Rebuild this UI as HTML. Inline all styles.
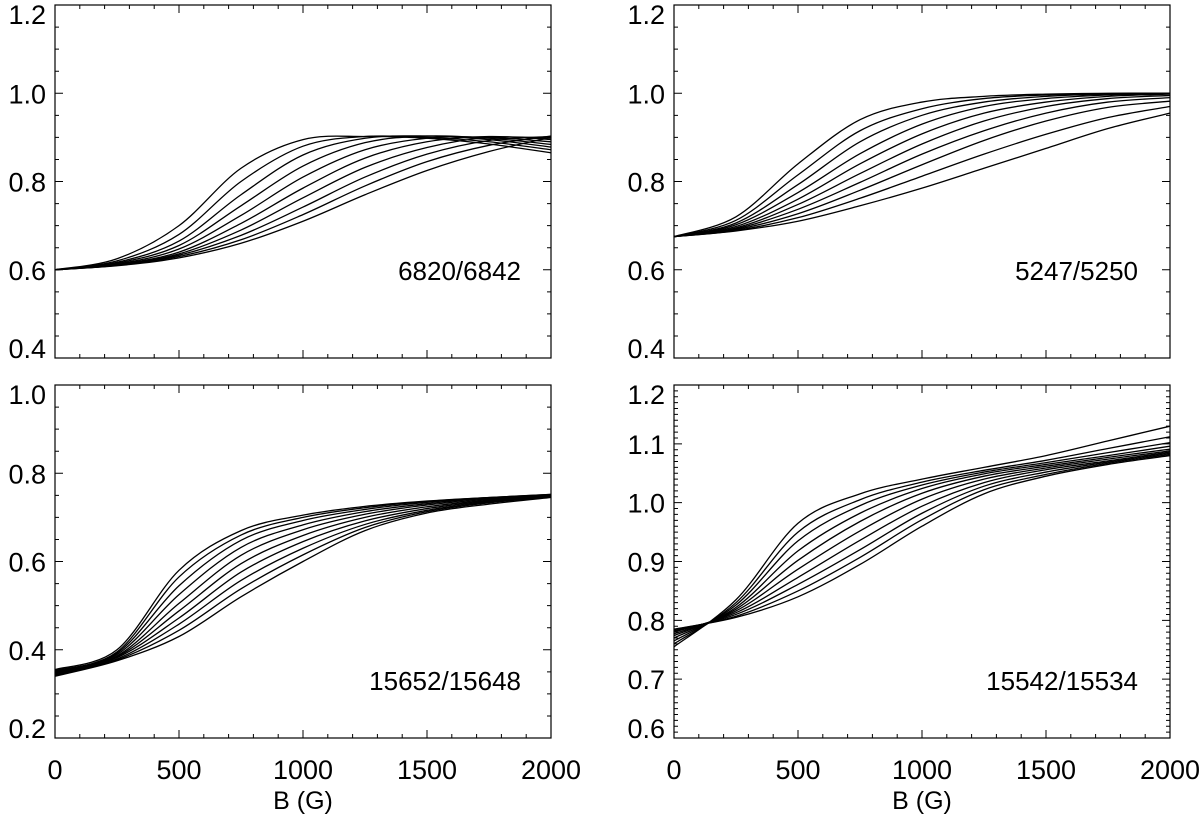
<!DOCTYPE html>
<html><head><meta charset="utf-8"><style>
body{margin:0;background:#fff}
svg{display:block}
text{font-family:"Liberation Sans",sans-serif;fill:#000}
</style></head><body>
<svg id="fig" width="1200" height="815"></svg>
<script>
const bGrid = [0,250,500,750,1000,1250,1500,1750,2000];
const xTicks = [0,500,1000,1500,2000];
const xTickLabels = ["0","500","1000","1500","2000"];
const tlCurves = [
[.600,.625,.700,.830,.895,.902,.898,.885,.865],
[.600,.620,.680,.800,.880,.902,.900,.890,.872],
[.600,.617,.665,.770,.860,.898,.903,.895,.878],
[.600,.615,.655,.745,.835,.888,.903,.898,.884],
[.600,.613,.647,.723,.810,.872,.898,.900,.890],
[.600,.612,.640,.705,.785,.853,.890,.902,.895],
[.600,.611,.636,.690,.763,.832,.877,.900,.898],
[.600,.610,.633,.678,.742,.810,.862,.893,.902],
[.600,.610,.630,.668,.725,.790,.845,.882,.903],
[.600,.609,.627,.660,.710,.770,.825,.868,.900]];
const trCurves = [
[.675,.720,.840,.940,.980,.993,.998,1.0,1.0],
[.675,.712,.815,.915,.965,.988,.996,.999,1.0],
[.675,.706,.793,.890,.950,.980,.993,.998,1.0],
[.675,.702,.775,.863,.930,.970,.988,.996,.999],
[.675,.698,.760,.840,.908,.955,.980,.993,.998],
[.675,.695,.748,.818,.885,.937,.970,.988,.995],
[.675,.693,.737,.798,.862,.915,.955,.980,.990],
[.675,.691,.727,.780,.838,.893,.937,.968,.982],
[.675,.689,.718,.762,.812,.862,.907,.945,.970],
[.675,.688,.710,.745,.785,.830,.875,.920,.955]];
const blCurves = [
[.355,.400,.580,.670,.705,.725,.737,.745,.752],
[.353,.395,.565,.660,.700,.722,.736,.745,.752],
[.351,.392,.545,.648,.693,.718,.734,.744,.751],
[.349,.389,.525,.632,.683,.713,.731,.743,.750],
[.348,.386,.505,.614,.672,.707,.728,.741,.750],
[.346,.384,.488,.595,.659,.700,.724,.739,.749],
[.345,.382,.472,.576,.645,.692,.720,.737,.748],
[.343,.379,.458,.557,.630,.684,.716,.735,.747],
[.342,.377,.444,.538,.615,.677,.713,.733,.746],
[.340,.375,.430,.520,.600,.670,.710,.730,.745]];
const brCurves = [
[.755,.835,.965,1.015,1.040,1.060,1.080,1.105,1.130],
[.760,.830,.950,1.005,1.035,1.055,1.072,1.092,1.112],
[.765,.826,.935,.995,1.030,1.052,1.068,1.085,1.102],
[.770,.822,.918,.982,1.024,1.049,1.065,1.080,1.096],
[.774,.819,.902,.968,1.016,1.045,1.062,1.077,1.091],
[.777,.816,.887,.952,1.006,1.040,1.059,1.074,1.088],
[.780,.813,.873,.936,.994,1.034,1.056,1.071,1.086],
[.782,.810,.861,.920,.982,1.028,1.052,1.069,1.084],
[.784,.807,.850,.907,.971,1.022,1.048,1.067,1.082],
[.785,.805,.840,.895,.960,1.015,1.045,1.065,1.080]];
const tlYTicks = ["0.4","0.6","0.8","1.0","1.2"];
const blYTicks = ["0.2","0.4","0.6","0.8","1.0"];
const brYTicks = ["0.6","0.7","0.8","0.9","1.0","1.1","1.2"];
const panelLabels = ["6820/6842","5247/5250","15652/15648","15542/15534"];

const NS="http://www.w3.org/2000/svg";
const svg=document.getElementById('fig');
function mk(tag,attrs,parent){const e=document.createElementNS(NS,tag);for(const k in attrs)e.setAttribute(k,attrs[k]);(parent||svg).appendChild(e);return e;}

const panels=[
 {x0:55,x1:551,y0:5,y1:358,ymin:0.4,ymax:1.2,major:0.2,minor:0.05,yt:tlYTicks,curves:tlCurves,label:panelLabels[0],lx:521,ly:280,xlab:false,name:'panel-6820'},
 {x0:674,x1:1170,y0:5,y1:358,ymin:0.4,ymax:1.2,major:0.2,minor:0.05,yt:tlYTicks,curves:trCurves,label:panelLabels[1],lx:1138,ly:280,xlab:false,name:'panel-5247'},
 {x0:55,x1:551,y0:385,y1:738,ymin:0.2,ymax:1.0,major:0.2,minor:0.05,yt:blYTicks,curves:blCurves,label:panelLabels[2],lx:521,ly:690,xlab:true,name:'panel-15652'},
 {x0:674,x1:1170,y0:385,y1:738,ymin:0.6,ymax:1.2,major:0.1,minor:0.01,yt:brYTicks,curves:brCurves,label:panelLabels[3],lx:1138,ly:690,xlab:true,name:'panel-15542'}];

panels.forEach(p=>{
 const g=mk('g',{});
 
 
 const sx=v=>p.x0+(v-0)/(2000-0)*(p.x1-p.x0);
 const sy=v=>p.y1-(v-p.ymin)/(p.ymax-p.ymin)*(p.y1-p.y0);
 const fr=mk('rect',{x:p.x0,y:p.y0,width:p.x1-p.x0,height:p.y1-p.y0,fill:'none',stroke:'#000','stroke-width':1.2},g);
 
 
 let d='';
 for(let b=0;b<=2000;b+=100){const X=sx(b);const L=(b%500===0)?8:4;
  d+=`M${X},${p.y1}v${-L}M${X},${p.y0}v${L}`;}
 const n=Math.round((p.ymax-p.ymin)/p.minor);
 const per=Math.round(p.major/p.minor);
 for(let i=0;i<=n;i++){const v=p.ymin+i*p.minor;const Y=sy(v);const L=(i%per===0)?8:4;
  d+=`M${p.x0},${Y}h${L}M${p.x1},${Y}h${-L}`;}
 const tk=mk('path',{d:d,stroke:'#000','stroke-width':1,fill:'none'},g);
 
 
 p.yt.forEach((t,i)=>{
  let yy=sy(parseFloat(t))+10;
  if(i===0) yy=p.y1;
  if(i===p.yt.length-1) yy=p.y0+19;
  const tx=mk('text',{x:p.x0-9,y:yy,'text-anchor':'end','font-size':27},g);tx.textContent=t;
  
  });
 if(p.xlab){
  xTicks.forEach((b,i)=>{const tx=mk('text',{x:sx(b),y:779,'text-anchor':'middle','font-size':27},g);tx.textContent=xTickLabels[i];
   
   });
  const xt=mk('text',{x:(p.x0+p.x1)/2,y:809,'text-anchor':'middle','font-size':25},g);xt.textContent='B (G)';
  
  
 }
 const lb=mk('text',{x:p.lx,y:p.ly,'text-anchor':'end','font-size':26},g);lb.textContent=p.label;
 
 
 p.curves.forEach((c,ci)=>{
  const pts=c.map((v,i)=>[sx(bGrid[i]),sy(v)]);
  let pd=`M${pts[0][0]},${pts[0][1]}`;
  for(let i=0;i<pts.length-1;i++){
   const p0=pts[Math.max(0,i-1)],p1=pts[i],p2=pts[i+1],p3=pts[Math.min(pts.length-1,i+2)];
   const c1=[p1[0]+(p2[0]-p0[0])/6,p1[1]+(p2[1]-p0[1])/6];
   const c2=[p2[0]-(p3[0]-p1[0])/6,p2[1]-(p3[1]-p1[1])/6];
   pd+=`C${c1[0]},${c1[1]} ${c2[0]},${c2[1]} ${p2[0]},${p2[1]}`;}
  const ln=mk('path',{d:pd,fill:'none',stroke:'#000','stroke-width':1.3},g);
  
  
 });
});
</script>
</body></html>
